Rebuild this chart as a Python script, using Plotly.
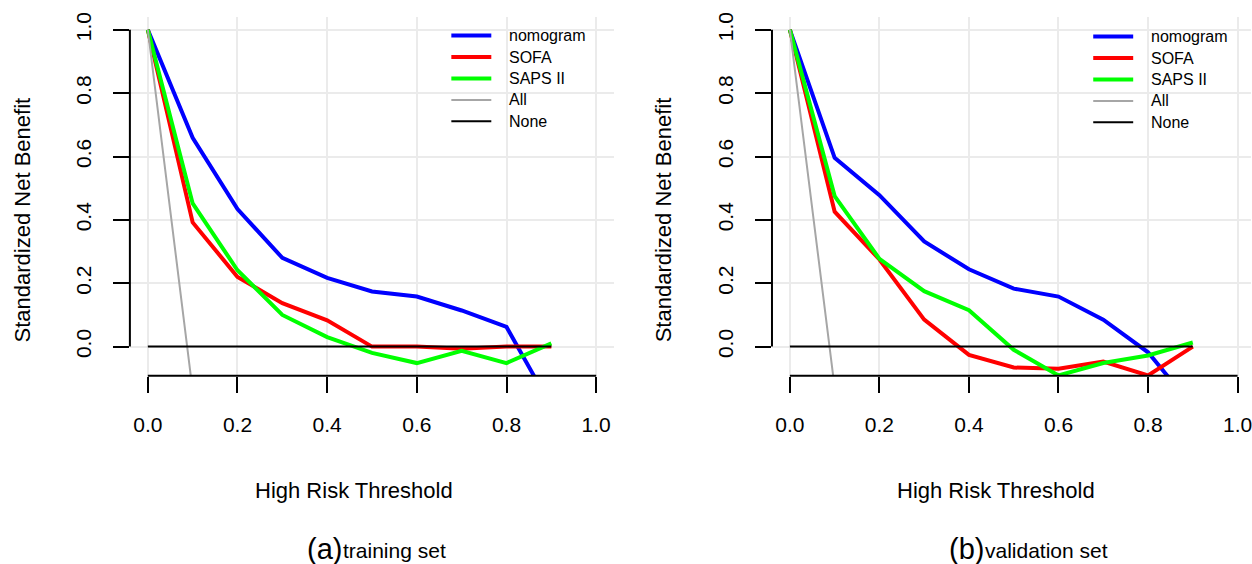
import plotly.graph_objects as go

# Decision-curve data: standardized net benefit by high-risk threshold
threshold = [0.0, 0.1, 0.2, 0.3, 0.4, 0.5, 0.6, 0.7, 0.8, 0.9]

train_nomogram = [1.0, 0.659, 0.434, 0.280, 0.217, 0.174, 0.158, 0.114, 0.062, -0.19]
train_sofa = [1.0, 0.392, 0.220, 0.137, 0.083, 0.0, 0.0, -0.007, 0.0, 0.0]
train_saps = [1.0, 0.452, 0.241, 0.100, 0.030, -0.020, -0.052, -0.013, -0.052, 0.010]
train_all = [1.0, -0.14, -1.57, -3.41, -5.86, -9.3, -14.4, -23.0, -40.2, -91.7]
train_none = [0.0, 0.0, 0.0, 0.0, 0.0, 0.0, 0.0, 0.0, 0.0, 0.0]

val_nomogram = [1.0, 0.596, 0.478, 0.332, 0.244, 0.183, 0.158, 0.085, -0.018, -0.19]
val_sofa = [1.0, 0.426, 0.275, 0.085, -0.026, -0.066, -0.070, -0.047, -0.091, 0.0]
val_saps = [1.0, 0.475, 0.277, 0.175, 0.115, -0.010, -0.091, -0.052, -0.028, 0.013]
val_all = [1.0, -0.13, -1.54, -3.36, -5.78, -9.2, -14.2, -22.6, -39.6, -90.4]
val_none = [0.0, 0.0, 0.0, 0.0, 0.0, 0.0, 0.0, 0.0, 0.0, 0.0]

series_names = ["nomogram", "SOFA", "SAPS II", "All", "None"]
series_colors = ["#0000FF", "#FF0000", "#00FF00", "#A6A6A6", "#000000"]
series_widths = [4, 4, 4, 2, 2]

axis_ticks = [0.0, 0.2, 0.4, 0.6, 0.8, 1.0]
panel_tags = ["(a)", "(b)"]
panel_captions = ["training set", "validation set"]
x_title = "High Risk Threshold"
y_title = "Standardized Net Benefit"

FONT = "Liberation Sans, Arial, Helvetica, sans-serif"
W, H = 1252, 564

fig = go.Figure()

panels = [
    (train_nomogram, train_sofa, train_saps, train_all, train_none),
    (val_nomogram, val_sofa, val_saps, val_all, val_none),
]
for p, curves in enumerate(panels):
    xa = "x" if p == 0 else "x2"
    ya = "y" if p == 0 else "y2"
    for name, vals, col, lw in zip(series_names, curves, series_colors, series_widths):
        fig.add_trace(go.Scatter(
            x=threshold, y=vals, mode="lines", name=name,
            line=dict(color=col, width=lw),
            xaxis=xa, yaxis=ya, showlegend=False,
        ))

grid_col = "#EBEBEB"
common_x = dict(
    tickvals=axis_ticks, tickformat=".1f", ticks="outside", ticklen=16,
    tickwidth=2, tickcolor="black", showline=False, zeroline=False,
    showgrid=True, gridcolor=grid_col, gridwidth=2,
    tickfont=dict(family=FONT, size=21, color="black"),
    ticklabelstandoff=14, ticklabeloverflow="allow", fixedrange=True,
)
common_y = dict(
    tickvals=axis_ticks, tickformat=".1f", ticks="outside", ticklen=16,
    tickwidth=2, tickcolor="black", showline=False, zeroline=False,
    showgrid=True, gridcolor=grid_col, gridwidth=2, tickangle=-90,
    tickfont=dict(family=FONT, size=21, color="black"),
    ticklabelstandoff=14, range=[-0.092, 1.042], fixedrange=True,
)

y_dom = [1 - 374.4 / H, 1 - 12.6 / H]
fig.update_layout(
    width=W, height=H, autosize=False,
    margin=dict(l=0, r=0, t=0, b=0),
    paper_bgcolor="white", plot_bgcolor="white",
    font=dict(family=FONT, color="black"),
    xaxis=dict(domain=[130 / W, 614.6 / W], range=[-0.04, 1.04], anchor="y", **common_x),
    yaxis=dict(domain=y_dom, anchor="x", **common_y),
    xaxis2=dict(domain=[772.6 / W, 1.0], range=[-0.04, 1.03], anchor="y2", **common_x),
    yaxis2=dict(domain=y_dom, anchor="x2", **common_y),
    showlegend=False,
)

# R-style axis lines that only span the first to last tick
for xa, ya in (("x", "y"), ("x2", "y2")):
    fig.add_shape(type="line", xref=xa, yref=f"{ya} domain",
                  x0=axis_ticks[0], x1=axis_ticks[-1], y0=0, y1=0,
                  line=dict(color="black", width=2), layer="above")
    fig.add_shape(type="line", xref=f"{xa} domain", yref=ya,
                  x0=0, x1=0, y0=axis_ticks[0], y1=axis_ticks[-1],
                  line=dict(color="black", width=2), layer="above")

# Legend key drawn in the top-right corner of each panel
panel_shift = 642.4
legend_row = 21.6
for p in range(2):
    dx = p * panel_shift
    top = 31.8 + p * 1.0
    for i, (name, col, lw) in enumerate(zip(series_names, series_colors, series_widths)):
        yy = 1 - (top + i * legend_row) / H
        fig.add_shape(type="line", xref="paper", yref="paper",
                      x0=(451.7 + dx) / W, x1=(491.7 + dx) / W, y0=yy, y1=yy,
                      line=dict(color=col, width=lw))
        fig.add_annotation(text=name, xref="paper", yref="paper",
                           x=(507.5 + dx) / W, y=yy, xanchor="left", yanchor="middle",
                           showarrow=False, font=dict(family=FONT, size=16, color="black"))

# Axis titles and panel captions
for p in range(2):
    dx = p * panel_shift
    fig.add_annotation(text=x_title, xref="paper", yref="paper",
                       x=(354 + dx) / W, y=1 - 490 / H, xanchor="center", yanchor="middle",
                       showarrow=False, font=dict(family=FONT, size=22, color="black"))
    fig.add_annotation(text=y_title, xref="paper", yref="paper", textangle=-90,
                       x=(22 + dx) / W, y=1 - 217 / H, xanchor="center", yanchor="middle",
                       showarrow=False, font=dict(family=FONT, size=22, color="black"))
    cap_x = 342.5 + p * 642.5
    fig.add_annotation(text=panel_tags[p], xref="paper", yref="paper",
                       x=cap_x / W, y=1 - 549 / H, xanchor="right", yanchor="middle",
                       borderpad=0, borderwidth=0,
                       showarrow=False, font=dict(family=FONT, size=29, color="black"))
    fig.add_annotation(text=panel_captions[p], xref="paper", yref="paper",
                       x=(cap_x + 1) / W, y=1 - 550 / H, xanchor="left", yanchor="middle",
                       borderpad=0, borderwidth=0,
                       showarrow=False, font=dict(family=FONT, size=21, color="black"))

fig.write_html("out.html", config={"displayModeBar": False})
